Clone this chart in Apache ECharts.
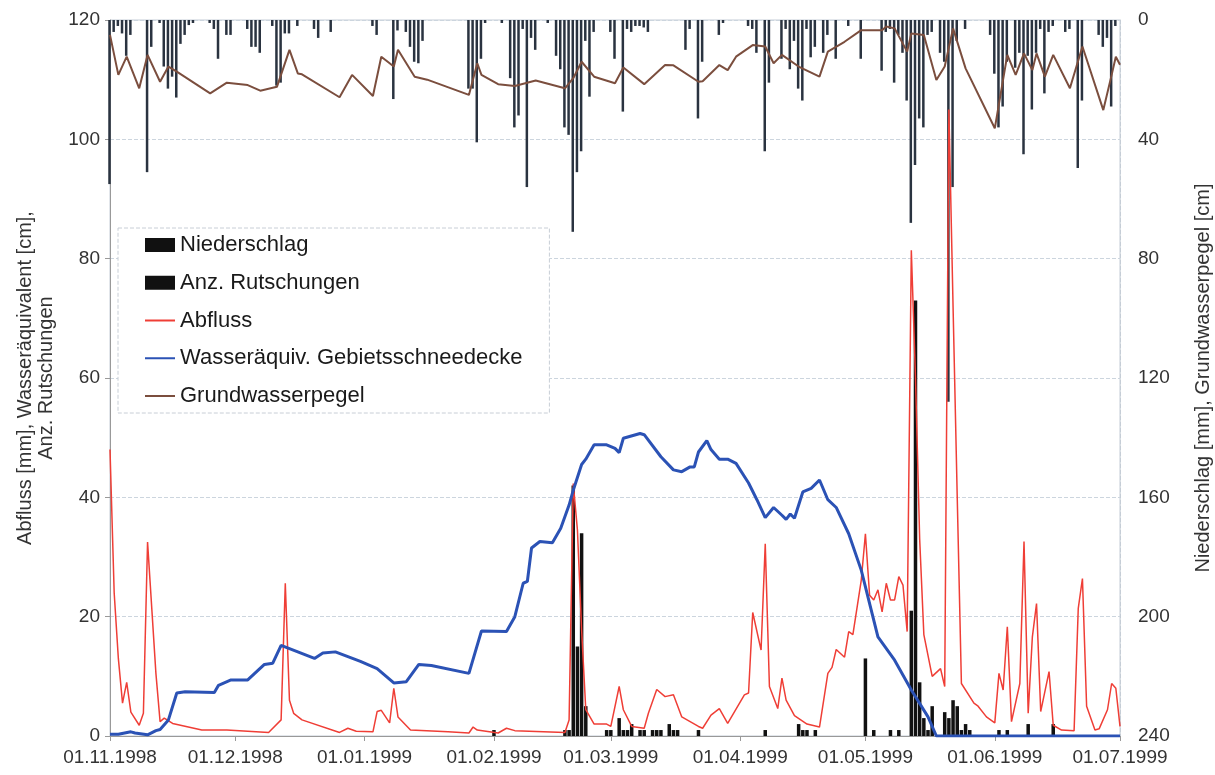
<!DOCTYPE html>
<html>
<head>
<meta charset="utf-8">
<script src="https://cdn.jsdelivr.net/npm/echarts@6/dist/echarts.min.js"></script>
<style>
html,body{margin:0;padding:0;background:#fff;}
#c{width:1215px;height:775px;}
</style>
</head>
<body>
<div id="c"></div>
<script>
// ---- categories: daily dates 01.11.1998 .. 01.07.1999 ----
const startDate = Date.UTC(1998, 10, 1);
const dayCount = 243;
const days = [];
for (let i = 0; i < dayCount; i++) {
  const d = new Date(startDate + i * 86400000);
  const dd = String(d.getUTCDate()).padStart(2, '0');
  const mm = String(d.getUTCMonth() + 1).padStart(2, '0');
  days.push(dd + '.' + mm + '.' + d.getUTCFullYear());
}

// ---- series values: [day index, value] ----
const niederschlag = [[0,55],[1,4],[2,2],[3,4.5],[4,12],[5,5],[9,51],[10,9],[12,1],[13,15.6],[14,23],[15,19],[16,26],[17,8],[18,5],[19,1.7],[20,1],[24,1],[25,3],[26,13],[28,5],[29,5],[33,3],[34,9],[35,9],[36,11],[39,2],[40,22],[41,21],[42,4.5],[43,4.5],[45,2],[49,3],[50,6],[53,4],[63,2],[64,5],[68,26.5],[69,3.5],[71,4],[72,9],[73,14],[74,14.5],[75,7],[86,23],[87,23],[88,41],[89,13],[90,1],[94,1],[96,19.5],[97,36],[98,32],[99,3],[100,56],[101,6],[102,10],[105,1],[107,12],[108,16.5],[109,36],[110,38.5],[111,71],[112,51],[113,44],[114,7],[115,25.7],[116,4],[120,4],[121,13],[123,30.7],[124,3],[125,4],[126,2],[127,2],[128,2.5],[129,4],[138,10],[139,3],[141,33],[142,14],[146,5],[147,1],[153,2],[154,3],[155,11],[157,44],[158,21],[161,13],[162,3],[163,16.5],[164,7],[165,23],[166,27],[167,3],[168,12.5],[169,9],[171,11],[172,5],[174,13],[177,2],[180,13],[185,17],[186,4],[187,3],[188,21],[189,5],[190,11],[191,27],[192,68],[193,48.6],[194,33],[195,36],[196,5],[197,4],[199,11],[200,14],[201,128],[202,56],[203,7],[205,3],[211,5],[212,18],[213,36],[214,29],[215,14],[217,16],[218,11],[219,45],[220,12],[221,30],[222,11],[223,3],[224,24.6],[225,4],[226,2],[229,4],[230,3],[232,49.6],[233,27],[237,5],[238,9],[239,6],[240,29],[241,2]];

const rutschungen = [[92,1],[109,1],[110,1],[111,42],[112,15],[113,34],[114,5],[119,1],[120,1],[122,3],[123,1],[124,1],[125,2],[127,1],[128,1],[130,1],[131,1],[132,1],[134,2],[135,1],[136,1],[141,1],[157,1],[165,2],[166,1],[167,1],[169,1],[181,13],[183,1],[187,1],[189,1],[192,21],[193,73],[194,9],[195,3],[196,1],[197,5],[200,4],[201,3],[202,6],[203,5],[204,1],[205,2],[206,1],[213,1],[215,1],[220,2],[226,2]];

const abfluss = [[0,48],[1,24],[2,13],[3,5.5],[4,9],[5,4],[7,1.8],[8,3.8],[9,32.5],[11,10.5],[12,2.4],[13,3],[15,2.1],[22,1],[28,1],[38,0.6],[41,2.7],[42,25.6],[43,6],[44,3.8],[46,2.7],[55,0.6],[57,1.3],[59,0.8],[63,0.7],[64,4.1],[65,4.3],[67,2.2],[68,8],[69,3.2],[72,1],[81,0.7],[86,0.5],[87,1.5],[88,1],[93,0.5],[95,1.3],[97,0.9],[109,0.6],[110,2.7],[111,42.3],[112,34.5],[113,17.8],[114,4.4],[116,2],[119,2],[120,1.6],[122,8.3],[123,4.4],[125,1.6],[128,1.3],[129,3.8],[131,7.8],[133,6.6],[135,6.9],[137,3.2],[141,1.6],[142,1.3],[144,3.5],[146,4.6],[148,2.1],[152,6.9],[153,7.2],[154,20.7],[156,14.4],[157,32.2],[158,8.3],[160,4.6],[161,9.7],[162,6],[164,3.4],[167,2],[170,1.5],[172,10.5],[173,11.5],[174,14.5],[176,13.2],[177,17.5],[178,17],[180,26.1],[181,33.9],[182,23.6],[183,22.8],[184,24.5],[185,20.8],[186,25.6],[187,22.8],[188,22.8],[189,26.7],[190,25.3],[191,17.5],[192,81.4],[193,60],[194,33],[195,17],[197,10],[199,11.3],[200,8.3],[201,105],[202,72],[203,40],[204,8.8],[207,5.5],[208,5],[210,3.2],[212,2.2],[213,10.5],[214,7.7],[215,18.3],[216,2.4],[218,8.8],[219,32.6],[220,3.8],[221,16.6],[222,22.2],[223,4.1],[225,10.8],[226,1.8],[228,1],[231,0.9],[232,21.4],[233,26.4],[234,5],[236,1],[237,1.2],[239,4.4],[240,8.8],[241,8],[242,1.6]];

const wasseraequiv = [[0,0.3],[2,0.3],[5,0.7],[6,0.5],[9,0.2],[11,0.9],[12,1.1],[14,2.7],[16,7.2],[18,7.4],[25,7.3],[26,8.5],[29,9.4],[33,9.4],[37,12],[39,12.2],[41,15.2],[45,14.1],[49,13],[51,13.9],[54,14.1],[60,12.5],[64,11.3],[68,8.9],[71,9.1],[74,12],[77,11.8],[86,10.5],[89,17.6],[95,17.5],[97,20],[99,25.6],[100,25.9],[101,31.5],[103,32.6],[106,32.4],[108,34.8],[110,38.7],[111,41.2],[113,45.5],[114,46.4],[116,48.8],[119,48.8],[121,48.2],[122,47.5],[123,49.9],[127,50.7],[128,50.5],[132,46.8],[135,44.6],[137,44.3],[139,45.1],[140,45.1],[141,47.6],[143,49.5],[144,48],[146,46.4],[148,46.4],[150,45.7],[153,42.4],[155,39.6],[157,36.6],[159,38.3],[161,37],[162,36.3],[163,37.2],[164,36.5],[166,40.9],[168,41.5],[170,42.9],[172,39.6],[174,38.3],[177,33.9],[180,27.8],[184,16.6],[188,12.7],[192,7.7],[196,3.2],[198,0],[242,0]];

const grundwasser = [[0,5],[2,18.4],[4,12.3],[7,22.9],[9,11.7],[12,20.7],[14,15.6],[16,17.3],[24,24.6],[28,21],[33,21.8],[36,23.7],[40,22.4],[43,10],[45,17.9],[46,18.2],[55,25.9],[58,18.4],[63,25.5],[65,12.3],[68,15.6],[69,10],[73,19],[76,20],[86,25.1],[88,14.5],[89,18.4],[93,21.5],[97,22.1],[102,20.3],[109,22.9],[111,19.5],[113,14],[116,19],[121,21.2],[123,15.9],[128,21.5],[133,15.1],[135,15.2],[141,20.7],[142,20.5],[146,15.1],[148,16.8],[150,12.3],[154,8.4],[157,8.9],[159,14.5],[161,11.7],[165,15.6],[170,19],[172,10.6],[176,7.3],[180,3.4],[185,3.4],[186,2.2],[188,2.8],[191,10.6],[192,4.5],[195,5],[198,20.1],[200,15.6],[202,2.8],[205,16.2],[212,36.3],[215,11.7],[217,18.4],[219,11.2],[221,16.8],[222,11.2],[224,19],[226,11.7],[230,22.9],[233,8.9],[238,30.2],[240,18.4],[241,12.3],[242,15]];

// ---- axis ticks ----
const leftTicks = {min: 0, max: 120, interval: 20};
const rightTicks = {min: 0, max: 240, interval: 40};

const isMonthStart = (idx, val) => String(val).startsWith('01.');
const FONT = 'Liberation Sans, Arial, sans-serif';
const LINE_ICON = 'path://M0,0 L30,0 L30,2 L0,2 Z';

const chart = echarts.init(document.getElementById('c'), null, {renderer: 'canvas'});
chart.setOption({
  animation: false,
  backgroundColor: '#fff',
  textStyle: {fontFamily: FONT},
  grid: {left: 110, right: 95, top: 20, bottom: 39, show: true, borderColor: '#c5cdd6', borderWidth: 1,
         containLabel: false, outerBoundsMode: 'none'},
  legend: {
    orient: 'vertical', left: 118, top: 228,
    backgroundColor: '#fff', borderColor: '#c8ced6', borderWidth: 1, borderType: 'dashed',
    padding: [6, 27, 6, 27], itemWidth: 30, itemHeight: 14, itemGap: 15.75,
    textStyle: {fontSize: 22, color: '#1a1a1a', lineHeight: 22, fontFamily: FONT},
    data: [
      {name: 'Niederschlag', icon: 'rect', itemStyle: {color: '#111'}},
      {name: 'Anz. Rutschungen', icon: 'rect'},
      {name: 'Abfluss', icon: LINE_ICON},
      {name: 'Wasseräquiv. Gebietsschneedecke', icon: LINE_ICON},
      {name: 'Grundwasserpegel', icon: LINE_ICON}
    ]
  },
  xAxis: {
    type: 'category', data: days, boundaryGap: false,
    axisLine: {lineStyle: {color: '#999'}},
    axisTick: {interval: isMonthStart, length: 5, lineStyle: {color: '#999'}},
    axisLabel: {interval: isMonthStart, fontSize: 19, color: '#333', margin: 12, fontFamily: FONT},
    splitLine: {show: false}
  },
  yAxis: [
    {
      type: 'value', position: 'left', min: leftTicks.min, max: leftTicks.max, interval: leftTicks.interval,
      name: 'Abfluss [mm], Wasseräquivalent [cm],\nAnz. Rutschungen',
      nameLocation: 'middle', nameGap: 52, nameRotate: 90,
      nameTextStyle: {fontSize: 20, lineHeight: 21, color: '#333', fontFamily: FONT},
      axisLine: {show: true, lineStyle: {color: '#999'}},
      axisTick: {show: true, length: 5, lineStyle: {color: '#999'}},
      axisLabel: {fontSize: 19, color: '#333', margin: 10, fontFamily: FONT},
      splitLine: {show: true, lineStyle: {color: '#ccd5de', type: 'dashed', width: 1}}
    },
    {
      type: 'value', position: 'right', inverse: true,
      min: rightTicks.min, max: rightTicks.max, interval: rightTicks.interval,
      name: 'Niederschlag [mm], Grundwasserpegel [cm]',
      nameLocation: 'middle', nameGap: 73, nameRotate: 90,
      nameTextStyle: {fontSize: 20, color: '#333', fontFamily: FONT},
      axisLine: {show: true, lineStyle: {color: '#c5cdd6', type: 'dashed'}},
      axisTick: {show: false},
      axisLabel: {fontSize: 19, color: '#333', margin: 18, fontFamily: FONT},
      splitLine: {show: false}
    }
  ],
  series: [
    {name: 'Niederschlag', type: 'bar', yAxisIndex: 1, data: niederschlag, barWidth: 2.5, barGap: '-100%',
     itemStyle: {color: '#2a3340'}, z: 2},
    {name: 'Anz. Rutschungen', type: 'bar', yAxisIndex: 0, data: rutschungen, barWidth: 3.5, barGap: '-100%',
     itemStyle: {color: '#111'}, z: 3},
    {name: 'Abfluss', type: 'line', yAxisIndex: 0, data: abfluss, symbol: 'none',
     itemStyle: {color: '#ef3e36'}, lineStyle: {color: '#ef3e36', width: 1.5}, z: 4},
    {name: 'Wasseräquiv. Gebietsschneedecke', type: 'line', yAxisIndex: 0, data: wasseraequiv, symbol: 'none',
     itemStyle: {color: '#2b52b5'}, lineStyle: {color: '#2b52b5', width: 3}, z: 5},
    {name: 'Grundwasserpegel', type: 'line', yAxisIndex: 1, data: grundwasser, symbol: 'none',
     itemStyle: {color: '#7b4e3e'}, lineStyle: {color: '#7b4e3e', width: 2}, z: 4}
  ]
});
</script>
</body>
</html>
